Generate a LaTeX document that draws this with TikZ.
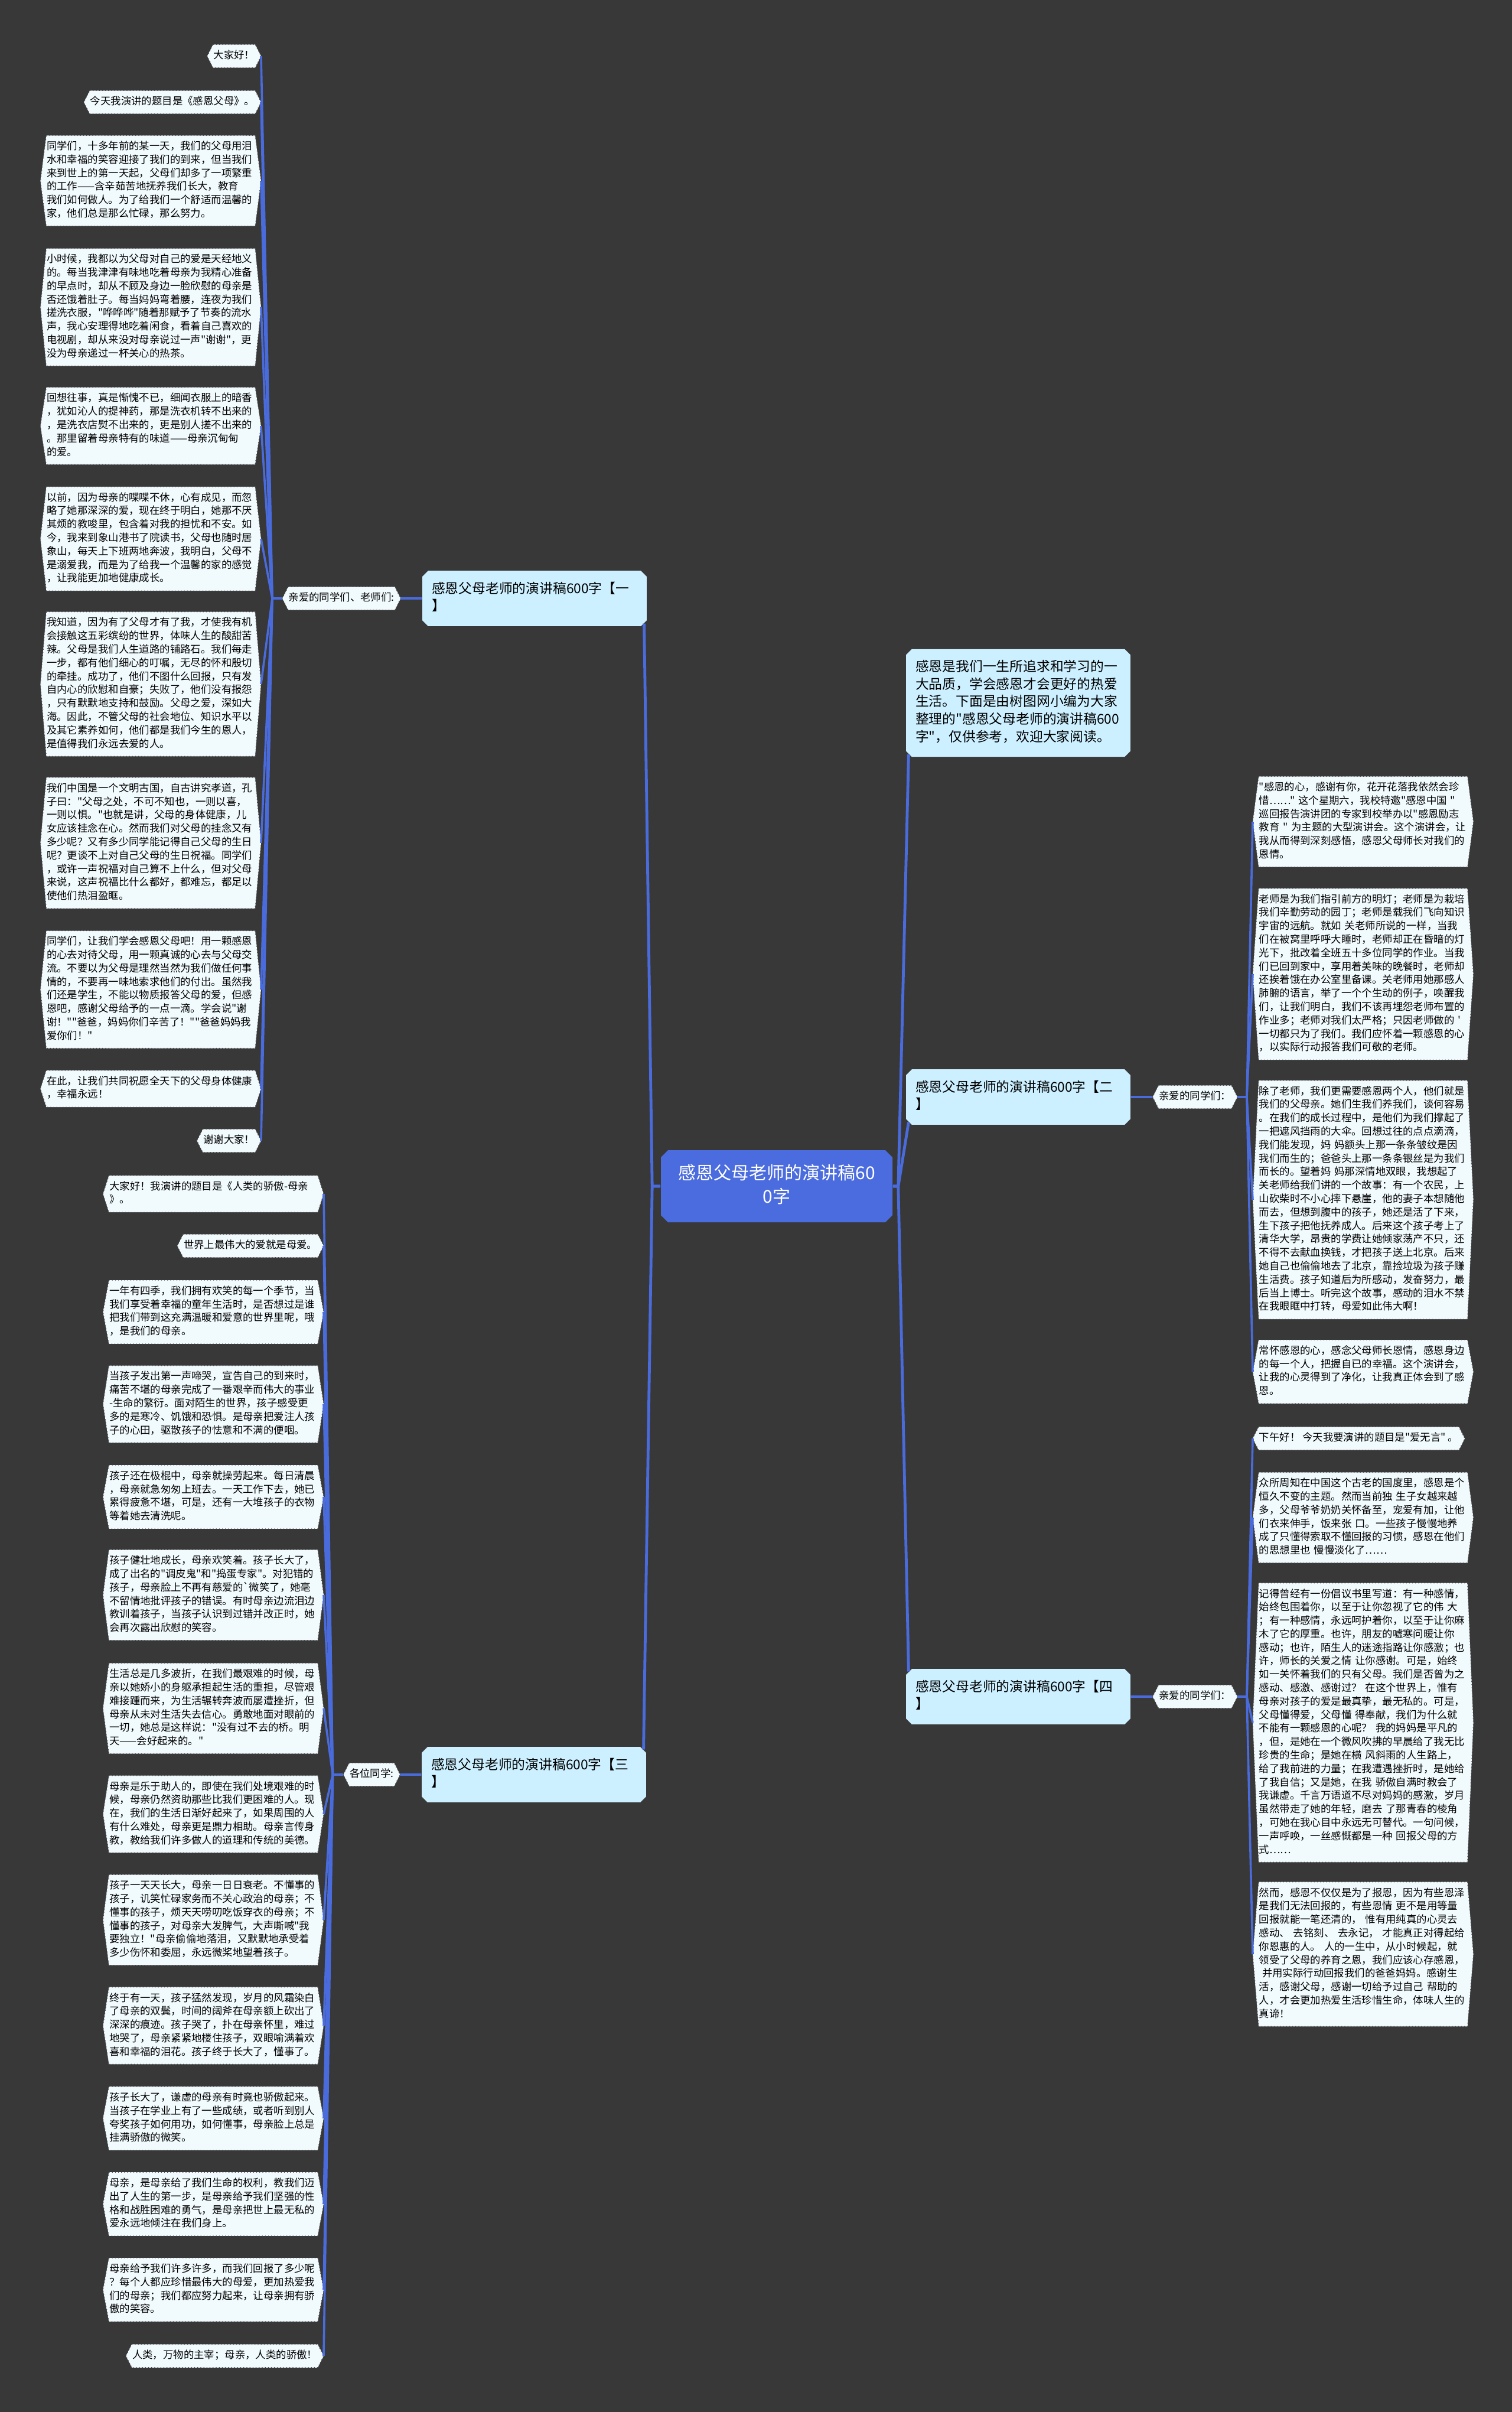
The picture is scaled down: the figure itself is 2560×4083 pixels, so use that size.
\documentclass[tikz,border=0pt]{standalone}
\usepackage{fontspec}
\usepackage{tikz}
\usetikzlibrary{positioning,backgrounds,shapes.misc}
\newfontfamily\cjk{Noto Sans CJK SC}

\definecolor{bgdark}{HTML}{383838}
\definecolor{rootblue}{HTML}{4B6CDE}
\definecolor{linkblue}{HTML}{4A6BDB}
\definecolor{branchfill}{HTML}{CCF0FF}
\definecolor{leaffill}{HTML}{F1FAFD}

\newcommand{\leaffont}{\cjk\fontsize{4.35pt}{5.7pt}\selectfont}
\newcommand{\branchfont}{\cjk\fontsize{5.7pt}{7.4pt}\selectfont}
\newcommand{\rootfont}{\cjk\fontsize{7.5pt}{10pt}\selectfont}
% six-sided outline round a leaf node
\newcommand{\hexleaf}[1]{\path[hexline] ([xshift=2.5pt]#1.north west) -- ([xshift=-2.5pt]#1.north east) -- (#1.east) -- ([xshift=-2.5pt]#1.south east) -- ([xshift=2.5pt]#1.south west) -- (#1.west) -- cycle;}

\begin{document}
\begin{tikzpicture}[
  x=0.25pt, y=-0.25pt,
  leaf/.style={font=\leaffont, align=left, text width=88pt, inner xsep=2.5pt, inner ysep=1.875pt,
    execute at begin node=\strut, execute at end node=\strut},
  tag/.style={font=\leaffont, inner xsep=2.5pt, inner ysep=1.875pt,
    execute at begin node=\strut, execute at end node=\strut},
  branch/.style={chamfered rectangle, chamfered rectangle xsep=1.2pt, chamfered rectangle ysep=1.2pt,
    fill=branchfill, font=\branchfont, align=left, text width=87pt, inner xsep=2.75pt, inner ysep=3.1pt,
    execute at begin node=\strut, execute at end node=\strut},
  rootbox/.style={chamfered rectangle, chamfered rectangle xsep=1.5pt, chamfered rectangle ysep=1.5pt,
    fill=rootblue, text=white, font=\rootfont, align=center, text width=87pt, inner xsep=4pt, inner ysep=3.75pt,
    execute at begin node=\strut, execute at end node=\strut},
  hexline/.style={fill=leaffill, draw=black!70, densely dotted, line width=0.3pt},
  link/.style={draw=linkblue, line width=0.9pt},
  trunk/.style={draw=linkblue, line width=1.2pt}
]
\begin{scope}[on background layer]
\fill[bgdark] (0,0) rectangle (2560,4083);
\end{scope}
\useasboundingbox (0,0) rectangle (2560,4083);

% centre
\node[rootbox] (root) at (1315,2008) {感恩父母老师的演讲稿60\\0字};

% branches
\node[branch] (br1) at (905,1013) {感恩父母老师的演讲稿600字【一\\】};
\node[branch] (br3) at (904,3004) {感恩父母老师的演讲稿600字【三\\】};
\node[branch] (intro) at (1724,1190) {感恩是我们一生所追求和学习的一\\大品质，学会感恩才会更好的热爱\\生活。下面是由树图网小编为大家\\整理的"感恩父母老师的演讲稿600\\字"，仅供参考，欢迎大家阅读。};
\node[branch] (br2) at (1724,1857) {感恩父母老师的演讲稿600字【二\\】};
\node[branch] (br4) at (1724,2872) {感恩父母老师的演讲稿600字【四\\】};

% labels and junctions
\node[tag, left=9pt of br1] (la) {亲爱的同学们、老师们:};
\coordinate[left=4.25pt of la] (ja);
\node[tag, left=9pt of br3] (lc) {各位同学:};
\coordinate[left=4.5pt of lc] (jc);
\node[tag, right=9.25pt of br2] (lb) {亲爱的同学们：};
\coordinate[right=4pt of lb] (jb);
\node[tag, right=9.25pt of br4] (ld) {亲爱的同学们：};
\coordinate[right=4pt of ld] (jd);

% speech one
\node[tag, anchor=east] (a1) at (442,95) {大家好！};
\node[tag, anchor=east] (a2) at (442,173) {今天我演讲的题目是《感恩父母》。};
\node[leaf, anchor=east] (a3) at (442,306) {同学们，十多年前的某一天，我们的父母用泪\\水和幸福的笑容迎接了我们的到来，但当我们\\来到世上的第一天起，父母们却多了一项繁重\\的工作——含辛茹苦地抚养我们长大，教育\\我们如何做人。为了给我们一个舒适而温馨的\\家，他们总是那么忙碌，那么努力。};
\node[leaf, anchor=east] (a4) at (442,520) {小时候，我都以为父母对自己的爱是天经地义\\的。每当我津津有味地吃着母亲为我精心准备\\的早点时，却从不顾及身边一脸欣慰的母亲是\\否还饿着肚子。每当妈妈弯着腰，连夜为我们\\搓洗衣服，"哗哗哗"随着那赋予了节奏的流水\\声，我心安理得地吃着闲食，看着自己喜欢的\\电视剧，却从来没对母亲说过一声"谢谢"，更\\没为母亲递过一杯关心的热茶。};
\node[leaf, anchor=east] (a5) at (442,721) {回想往事，真是惭愧不已，细闻衣服上的暗香\\，犹如沁人的提神药，那是洗衣机转不出来的\\，是洗衣店熨不出来的，更是别人搓不出来的\\。那里留着母亲特有的味道——母亲沉甸甸\\的爱。};
\node[leaf, anchor=east] (a6) at (442,912) {以前，因为母亲的喋喋不休，心有成见，而忽\\略了她那深深的爱，现在终于明白，她那不厌\\其烦的教唆里，包含着对我的担忧和不安。如\\今，我来到象山港书了院读书，父母也随时居\\象山，每天上下班两地奔波，我明白，父母不\\是溺爱我，而是为了给我一个温馨的家的感觉\\，让我能更加地健康成长。};
\node[leaf, anchor=east] (a7) at (442,1158) {我知道，因为有了父母才有了我，才使我有机\\会接触这五彩缤纷的世界，体味人生的酸甜苦\\辣。父母是我们人生道路的铺路石。我们每走\\一步，都有他们细心的叮嘱，无尽的怀和殷切\\的牵挂。成功了，他们不图什么回报，只有发\\自内心的欣慰和自豪；失败了，他们没有报怨\\，只有默默地支持和鼓励。父母之爱，深如大\\海。因此，不管父母的社会地位、知识水平以\\及其它素养如何，他们都是我们今生的恩人，\\是值得我们永远去爱的人。};
\node[leaf, anchor=east] (a8) at (442,1427) {我们中国是一个文明古国，自古讲究孝道，孔\\子曰："父母之处，不可不知也，一则以喜，\\一则以惧。"也就是讲，父母的身体健康，儿\\女应该挂念在心。然而我们对父母的挂念又有\\多少呢？又有多少同学能记得自己父母的生日\\呢？更谈不上对自己父母的生日祝福。同学们\\，或许一声祝福对自己算不上什么，但对父母\\来说，这声祝福比什么都好，都难忘，都足以\\使他们热泪盈眶。};
\node[leaf, anchor=east] (a9) at (442,1675) {同学们，让我们学会感恩父母吧！用一颗感恩\\的心去对待父母，用一颗真诚的心去与父母交\\流。不要以为父母是理然当然为我们做任何事\\情的，不要再一味地索求他们的付出。虽然我\\们还是学生，不能以物质报答父母的爱，但感\\恩吧，感谢父母给予的一点一滴。学会说"谢\\谢！""爸爸，妈妈你们辛苦了！""爸爸妈妈我\\爱你们！"};
\node[leaf, anchor=east] (a10) at (442,1843) {在此，让我们共同祝愿全天下的父母身体健康\\，幸福永远！};
\node[tag, anchor=east] (a11) at (442,1931) {谢谢大家！};

% speech three
\node[leaf, anchor=east] (c1) at (548,2021) {大家好！我演讲的题目是《人类的骄傲-母亲\\》。};
\node[tag, anchor=east] (c2) at (548,2109) {世界上最伟大的爱就是母爱。};
\node[leaf, anchor=east] (c3) at (548,2221) {一年有四季，我们拥有欢笑的每一个季节，当\\我们享受着幸福的童年生活时，是否想过是谁\\把我们带到这充满温暖和爱意的世界里呢，哦\\，是我们的母亲。};
\node[leaf, anchor=east] (c4) at (548,2377) {当孩子发出第一声啼哭，宣告自己的到来时，\\痛苦不堪的母亲完成了一番艰辛而伟大的事业\\-生命的繁衍。面对陌生的世界，孩子感受更\\多的是寒冷、饥饿和恐惧。是母亲把爱注人孩\\子的心田，驱散孩子的怯意和不满的便咽。};
\node[leaf, anchor=east] (c5) at (548,2534) {孩子还在极棍中，母亲就操劳起来。每日清晨\\，母亲就急匆匆上班去。一天工作下去，她已\\累得疲惫不堪，可是，还有一大堆孩子的衣物\\等着她去清洗呢。};
\node[leaf, anchor=east] (c6) at (548,2700) {孩子健壮地成长，母亲欢笑着。孩子长大了，\\成了出名的"调皮鬼"和"捣蛋专家"。对犯错的\\孩子，母亲脸上不再有慈爱的`微笑了，她毫\\不留情地批评孩子的错误。有时母亲边流泪边\\教训着孩子，当孩子认识到过错并改正时，她\\会再次露出欣慰的笑容。};
\node[leaf, anchor=east] (c7) at (548,2892) {生活总是几多波折，在我们最艰难的时候，母\\亲以她娇小的身躯承担起生活的重担，尽管艰\\难接踵而来，为生活辗转奔波而屡遭挫折，但\\母亲从未对生活失去信心。勇敢地面对眼前的\\一切，她总是这样说："没有过不去的桥。明\\天——会好起来的。"};
\node[leaf, anchor=east] (c8) at (548,3071) {母亲是乐于助人的，即使在我们处境艰难的时\\候，母亲仍然资助那些比我们更困难的人。现\\在，我们的生活日渐好起来了，如果周围的人\\有什么难处，母亲更是鼎力相助。母亲言传身\\教，教给我们许多做人的道理和传统的美德。};
\node[leaf, anchor=east] (c9) at (548,3250) {孩子一天天长大，母亲一日日衰老。不懂事的\\孩子，讥笑忙碌家务而不关心政治的母亲；不\\懂事的孩子，烦天天唠叨吃饭穿衣的母亲；不\\懂事的孩子，对母亲大发脾气，大声嘶喊"我\\要独立！"母亲偷偷地落泪，又默默地承受着\\多少伤怀和委屈，永远微桨地望着孩子。};
\node[leaf, anchor=east] (c10) at (548,3429) {终于有一天，孩子猛然发现，岁月的风霜染白\\了母亲的双鬓，时间的阔斧在母亲额上砍出了\\深深的痕迹。孩子哭了，扑在母亲怀里，难过\\地哭了，母亲紧紧地楼住孩子，双眼喻满着欢\\喜和幸福的泪花。孩子终于长大了，懂事了。};
\node[leaf, anchor=east] (c11) at (548,3586) {孩子长大了，谦虚的母亲有时竟也骄傲起来。\\当孩子在学业上有了一些成绩，或者听到别人\\夸奖孩子如何用功，如何懂事，母亲脸上总是\\挂满骄傲的微笑。};
\node[leaf, anchor=east] (c12) at (548,3731) {母亲，是母亲给了我们生命的权利，教我们迈\\出了人生的第一步，是母亲给予我们坚强的性\\格和战胜困难的勇气，是母亲把世上最无私的\\爱永远地倾注在我们身上。};
\node[leaf, anchor=east] (c13) at (548,3876) {母亲给予我们许多许多，而我们回报了多少呢\\？每个人都应珍惜最伟大的母爱，更加热爱我\\们的母亲；我们都应努力起来，让母亲拥有骄\\傲的笑容。};
\node[tag, anchor=east] (c14) at (548,3988) {人类，万物的主宰；母亲，人类的骄傲！};

% speech two
\node[leaf, anchor=west] (b1) at (2121,1391) {"感恩的心，感谢有你，花开花落我依然会珍\\惜……"~这个星期六，我校特邀"感恩中国~"\\巡回报告演讲团的专家到校举办以"感恩励志\\教育~"~为主题的大型演讲会。这个演讲会，让\\我从而得到深刻感悟，感恩父母师长对我们的\\恩情。};
\node[leaf, anchor=west] (b2) at (2121,1649) {老师是为我们指引前方的明灯；老师是为栽培\\我们辛勤劳动的园丁；老师是载我们飞向知识\\宇宙的远航。就如~关老师所说的一样，当我\\们在被窝里呼呼大睡时，老师却正在昏暗的灯\\光下，批改着全班五十多位同学的作业。当我\\们已回到家中，享用着美味的晚餐时，老师却\\还挨着饿在办公室里备课。关老师用她那感人\\肺腑的语言，举了一个个生动的例子，唤醒我\\们，让我们明白，我们不该再埋怨老师布置的\\作业多；老师对我们太严格；只因老师做的~'\\一切都只为了我们。我们应怀着一颗感恩的心\\，以实际行动报答我们可敬的老师。};
\node[leaf, anchor=west] (b3) at (2121,2031) {除了老师，我们更需要感恩两个人，他们就是\\我们的父母亲。她们生我们养我们，谈何容易\\。在我们的成长过程中，是他们为我们撑起了\\一把遮风挡雨的大伞。回想过往的点点滴滴，\\我们能发现，妈~妈额头上那一条条皱纹是因\\我们而生的；爸爸头上那一条条银丝是为我们\\而长的。望着妈~妈那深情地双眼，我想起了\\关老师给我们讲的一个故事：有一个农民，上\\山砍柴时不小心摔下悬崖，他的妻子本想随他\\而去，但想到腹中的孩子，她还是活了下来，\\生下孩子把他抚养成人。后来这个孩子考上了\\清华大学，昂贵的学费让她倾家荡产不只，还\\不得不去献血换钱，才把孩子送上北京。后来\\她自己也偷偷地去了北京，靠捡垃圾为孩子赚\\生活费。孩子知道后为所感动，发奋努力，最\\后当上博士。听完这个故事，感动的泪水不禁\\在我眼眶中打转，母爱如此伟大啊！};
\node[leaf, anchor=west] (b4) at (2121,2322) {常怀感恩的心，感念父母师长恩情，感恩身边\\的每一个人，把握自已的幸福。这个演讲会，\\让我的心灵得到了净化，让我真正体会到了感\\恩。};

% speech four
\node[tag, anchor=west] (d1) at (2121,2435) {下午好！~今天我要演讲的题目是"爱无言"~。};
\node[leaf, anchor=west] (d2) at (2121,2569) {众所周知在中国这个古老的国度里，感恩是个\\恒久不变的主题。然而当前独~生子女越来越\\多，父母爷爷奶奶关怀备至，宠爱有加，让他\\们衣来伸手，饭来张~口。一些孩子慢慢地养\\成了只懂得索取不懂回报的习惯，感恩在他们\\的思想里也~慢慢淡化了……};
\node[leaf, anchor=west] (d3) at (2121,2916) {记得曾经有一份倡议书里写道：有一种感情，\\始终包围着你，以至于让你忽视了它的伟~大\\；有一种感情，永远呵护着你，以至于让你麻\\木了它的厚重。也许，朋友的嘘寒问暖让你\\感动；也许，陌生人的迷途指路让你感激；也\\许，师长的关爱之情~让你感谢。可是，始终\\如一关怀着我们的只有父母。我们是否曾为之\\感动、感激、感谢过？~在这个世界上，惟有\\母亲对孩子的爱是最真挚，最无私的。可是，\\父母懂得爱，父母懂~得奉献，我们为什么就\\不能有一颗感恩的心呢？~我的妈妈是平凡的\\，但，是她在一个微风吹拂的早晨给了我无比\\珍贵的生命；是她在横~风斜雨的人生路上，\\给了我前进的力量；在我遭遇挫折时，是她给\\了我自信；又是她，在我~骄傲自满时教会了\\我谦虚。千言万语道不尽对妈妈的感激，岁月\\虽然带走了她的年轻，磨去~了那青春的棱角\\，可她在我心目中永远无可替代。一句问候，\\一声呼唤，一丝感慨都是一种~回报父母的方\\式……};
\node[leaf, anchor=west] (d4) at (2121,3308) {然而，感恩不仅仅是为了报恩，因为有些恩泽\\是我们无法回报的，有些恩情~更不是用等量\\回报就能一笔还清的，~惟有用纯真的心灵去\\感动、~去铭刻、~去永记，~才能真正对得起给\\你恩惠的人。~人的一生中，从小时候起，就\\领受了父母的养育之恩，我们应该心存感恩，\\\hspace*{0.3em}并用实际行动回报我们的爸爸妈妈。感谢生\\活，感谢父母，感谢一切给予过自己~帮助的\\人，才会更加热爱生活珍惜生命，体味人生的\\真谛！};

% leaf outlines
\begin{scope}[on background layer]
\foreach \n in {a1,a2,a3,a4,a5,a6,a7,a8,a9,a10,a11,c1,c2,c3,c4,c5,c6,c7,c8,c9,c10,c11,c12,c13,c14,b1,b2,b3,b4,d1,d2,d3,d4,la,lb,lc,ld}
  {\hexleaf{\n}}
\end{scope}

% connectors
\draw[trunk] (root.west) -- ++(-3.5pt,0) -- (br1.south east);
\draw[trunk] (root.west) -- ++(-3.5pt,0) -- (br3.north east);
\draw[trunk] (root.east) -- ++(2.25pt,0) -- (intro.south west);
\draw[trunk] (root.east) -- ++(2.25pt,0) -- (br2.south west);
\draw[trunk] (root.east) -- ++(2.25pt,0) -- (br4.north west);

\draw[link] (br1) -- (la);
\draw[link] (la) -- (ja);
\draw[link] (br3) -- (lc);
\draw[link] (lc) -- (jc);
\draw[link] (br2) -- (lb);
\draw[link] (lb) -- (jb);
\draw[link] (br4) -- (ld);
\draw[link] (ld) -- (jd);
\foreach \i in {1,...,11} \draw[link] (ja) -- (a\i.east);
\foreach \i in {1,...,14} \draw[link] (jc) -- (c\i.east);
\foreach \i in {1,...,4} \draw[link] (jb) -- (b\i.west);
\foreach \i in {1,...,4} \draw[link] (jd) -- (d\i.west);
\end{tikzpicture}
\end{document}
